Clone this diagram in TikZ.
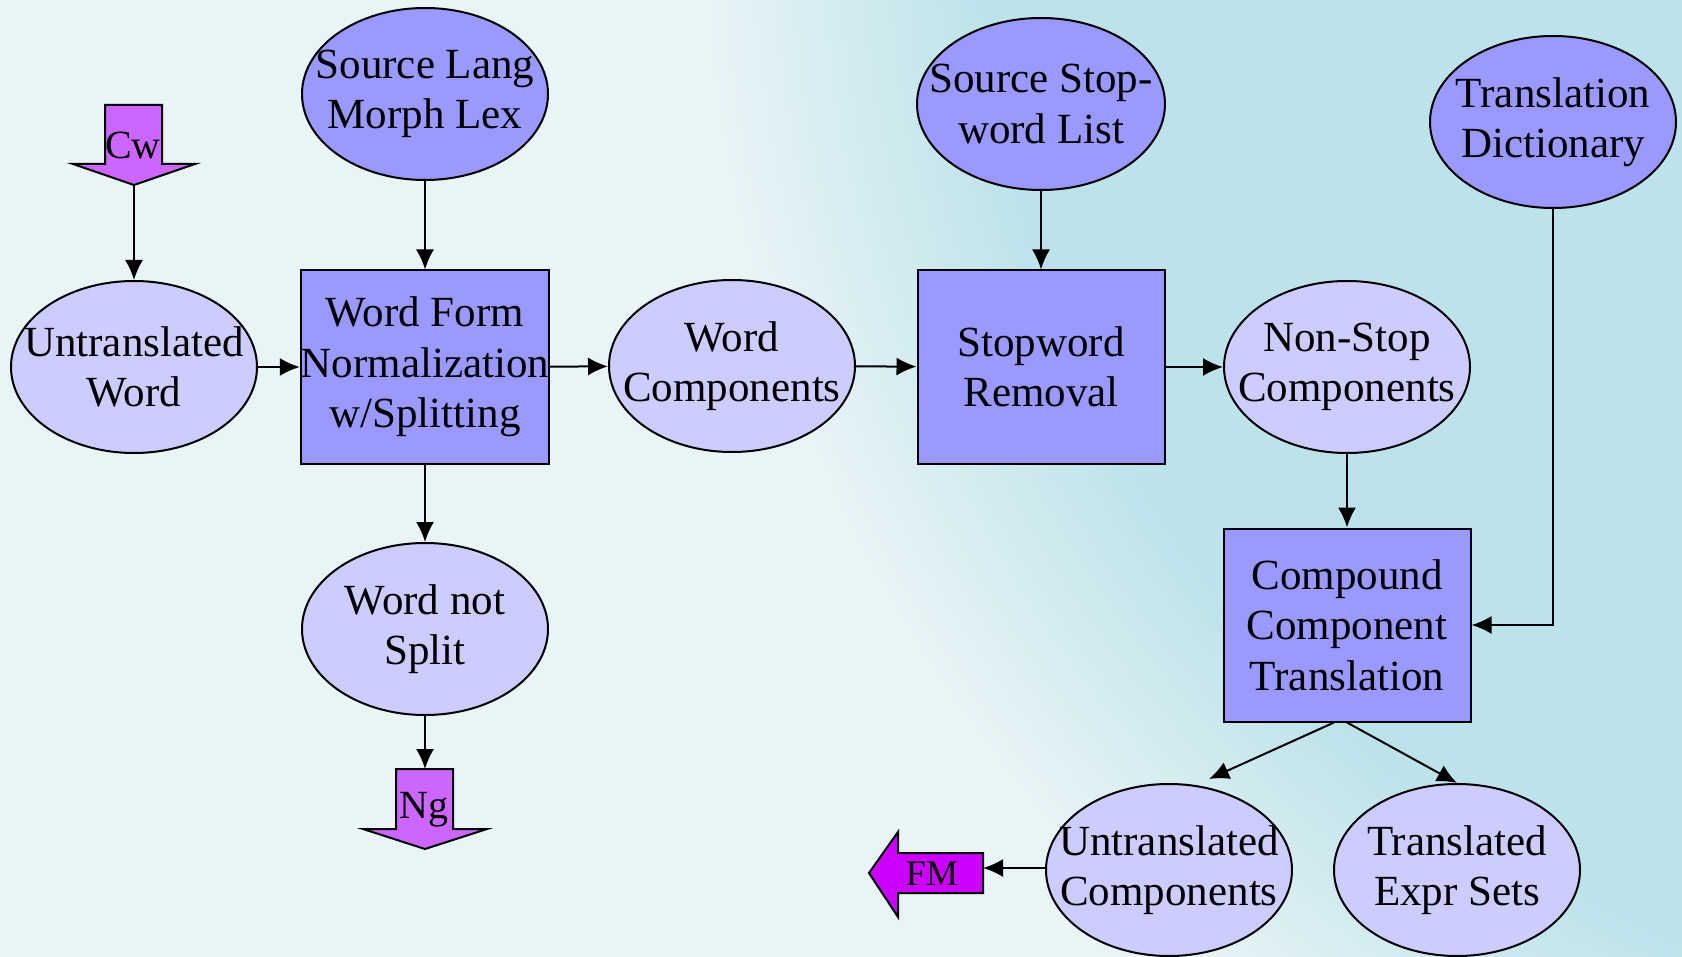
\documentclass[tikz,border=0pt]{standalone}
\usepackage{fontspec}
\setmainfont{Liberation Serif}
\usepackage{xcolor}
\usetikzlibrary{shapes.geometric,arrows.meta}
\definecolor{bglight}{HTML}{E9F4F6}
\definecolor{bgteal}{HTML}{BDE3EA}
\definecolor{darkblue}{HTML}{9999FF}
\definecolor{lightblue}{HTML}{CCCCFF}
\definecolor{pinkarrow}{HTML}{CC66FF}
\definecolor{violetarrow}{HTML}{CC00FF}
\pgfdeclareradialshading{bgglow}{\pgfpoint{0bp}{0bp}}{color(0bp)=(bgteal); color(14bp)=(bgteal); color(17.5bp)=(bglight); color(50bp)=(bglight)}

\tikzset{
  darkell/.style={ellipse, draw, line width=1pt, fill=darkblue, minimum width=123pt, minimum height=86pt, inner xsep=-12pt, inner ysep=-12pt, align=center},
  lightell/.style={darkell, fill=lightblue},
  procbox/.style={rectangle, draw, line width=1pt, fill=darkblue, minimum width=123.5pt, minimum height=96.5pt, inner sep=0pt, align=center},
  flow/.style={line width=1pt, -{Latex[length=10pt,width=9pt]}},
  tagarrow/.style={draw, line width=1pt, fill=pinkarrow, line join=miter},
}

\begin{document}
\begin{tikzpicture}[x=0.5pt,y=0.5pt,yscale=-1,font=\fontsize{21.5}{25.2}\selectfont]
\useasboundingbox (0,0) rectangle (1682,957);

% Background
\begin{scope}
\clip (0,0) rectangle (1682,957);
\fill[bglight] (0,0) rectangle (1682,957);
\shade[shading=bgglow] (2100,-100) circle (2000);
\end{scope}

%Shape: Ellipse [sources]
\node[darkell] (sl) at (425,94) {Source Lang\\Morph Lex};
\node[darkell] (ss) at (1041,104) {Source Stop-\\word List};
\node[darkell] (td) at (1553,122) {Translation\\Dictionary};

%Shape: Rectangle [steps]
\node[procbox] (wf) at (425,367) {Word Form\\Normalization\\w/Splitting};
\node[procbox] (sr) at (1041,367) {Stopword\\Removal};
\node[procbox] (ct) at (1347,625) {Compound\\Component\\Translation};

%Shape: Ellipse [data]
\node[lightell] (uw) at (134,367) {Untranslated\\Word};
\node[lightell] (ws) at (425,629) {Word not\\Split};
\node[lightell] (wc) at (732,366) {Word\\Components};
\node[lightell] (nc) at (1347,367) {Non-Stop\\Components};
\node[lightell] (ucp) at (1169,870) {Untranslated\\Components};
\node[lightell] (te) at (1457,870) {Translated\\Expr Sets};

%Shape: Down Arrow [Cw]
\draw[tagarrow] (105,105) -- (162,105) -- (162,164) -- (195,164) -- (134,185) -- (73,164) -- (105,164) -- cycle;
\coordinate (cwtip) at (134,185);
% Text Node
\node[inner sep=0pt, font=\fontsize{20}{24}\selectfont] (cw) at (133,145) {Cw};

%Shape: Down Arrow [Ng]
\draw[tagarrow] (396,769) -- (453,769) -- (453,829) -- (487,829) -- (425,849) -- (363,829) -- (396,829) -- cycle;
\coordinate (ngtop) at (425,769);
% Text Node
\node[inner sep=0pt, font=\fontsize{20}{24}\selectfont] (ng) at (424,810) {Ng};

%Shape: Left Arrow [FM]
\draw[tagarrow, fill=violetarrow] (983,853) -- (983,893) -- (898,893) -- (898,917) -- (869,873) -- (898,832) -- (898,853) -- cycle;
\coordinate (fmend) at (983,868);
% Text Node
\node[inner sep=0pt, font=\fontsize{18}{22}\selectfont] (fm) at (932,874) {FM};

%Straight Lines
\draw[flow] (cwtip) -- (uw.north);
\draw[flow] (uw) -- (wf);
\draw[flow] (sl) -- (wf);
\draw[flow] (wf) -- (wc);
\draw[flow] (wf) -- (ws);
\draw[flow] (ws.south) -- (ngtop);
\draw[flow] (wc) -- (sr);
\draw[flow] (ss) -- (sr);
\draw[flow] (sr) -- (nc);
\draw[flow] (nc) -- (ct);
\draw[flow] (td) |- (ct);
\draw[flow] ([xshift=-6.5pt]ct.south) -- ([xshift=20pt,yshift=-2pt]ucp.north);
\draw[flow] (ct.south) -- (te.north);
\draw[flow] (ucp.west |- fmend) -- (fmend);
\end{tikzpicture}
\end{document}
